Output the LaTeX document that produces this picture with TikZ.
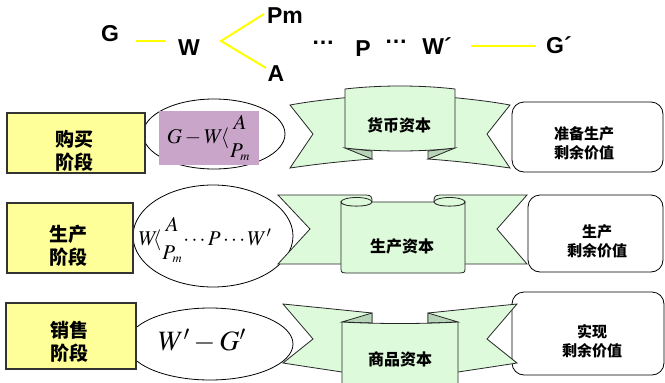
\documentclass[tikz,border=0pt]{standalone}
\usepackage{amsmath}
\usepackage{mathptmx}
\usepackage{fontspec}
\setmainfont{Liberation Sans}
\newfontfamily\cjk{Noto Sans CJK SC}
\usetikzlibrary{shapes.geometric}

\definecolor{stageyellow}{RGB}{255,255,153}
\definecolor{flowyellow}{RGB}{255,255,0}
\definecolor{ribbongreen}{RGB}{221,250,219}
\definecolor{foldgreen}{RGB}{184,212,184}
\definecolor{formulapurple}{RGB}{201,166,201}

\tikzset{
  letter/.style={font=\fontsize{23}{27}\selectfont\bfseries},
  flow/.style={draw=flowyellow, line width=2pt},
  stage/.style={draw=black!80, fill=stageyellow, line width=1.2pt},
  stagetext/.style={align=center, font=\cjk\bfseries\fontsize{19}{23}\selectfont},
  oval/.style={ellipse, draw, fill=white, line width=0.8pt},
  formula/.style={font=\fontsize{21}{25}\selectfont},
  result/.style={draw, rounded corners=12pt, line width=0.8pt, fill=white},
  resulttext/.style={align=center, font=\cjk\bfseries\fontsize{15}{19}\selectfont},
  ribbon/.style={draw=black!85, fill=ribbongreen, line width=0.8pt},
  fold/.style={draw=black!85, fill=foldgreen, line width=0.8pt},
  ribbontext/.style={font=\cjk\bfseries\fontsize{16}{19}\selectfont}
}

\begin{document}
\begin{tikzpicture}[x=1pt, y=-1pt, every node/.style={inner sep=0pt}]
\useasboundingbox (0,0) rectangle (665,383);
\clip (0,0) rectangle (665,383);

\node[letter] (g) at (110,34) {G};
\node[letter] (w) at (189,48) {W};
\node[letter] (pm) at (285,16) {Pm};
\node[letter] (a) at (276,74) {A};
\node[letter] (dots1) at (323,43) {\dots};
\node[letter] (p) at (363,49) {P};
\node[letter] (dots2) at (396,42) {\dots};
\node[letter] (w2) at (437,46) {W´};
\node[letter] (g2) at (559,45) {G´};
\coordinate (gw1) at (136,41);
\coordinate (gw2) at (165,41);
\coordinate (fork) at (221,41);
\coordinate (pmend) at (264,14);
\coordinate (aend) at (266,68);
\coordinate (wg1) at (471,46);
\coordinate (wg2) at (536,46);
\draw[flow] (gw1) -- (gw2);
\draw[flow] (pmend) -- (fork) -- (aend);
\draw[flow] (wg1) -- (wg2);

\node[oval, minimum width=142pt, minimum height=70pt] (buyoval) at (214,134) {};
\node[oval, minimum width=160pt, minimum height=102pt] (makeoval) at (213,236) {};
\node[oval, minimum width=166pt, minimum height=72pt] (selloval) at (210,344) {};

\node[stage, minimum width=138pt, minimum height=60pt] (buy) at (76,143) {};
\node[stage, minimum width=126pt, minimum height=70pt] (make) at (70,238) {};
\node[stage, minimum width=130pt, minimum height=66pt] (sell) at (71,336) {};
\node[stagetext] (buytxt) at (75,151) {购买\\阶段};
\node[stagetext] (maketxt) at (68,246) {生产\\阶段};
\node[stagetext] (selltxt) at (69,342) {销售\\阶段};

\node[formula, fill=formulapurple, minimum width=100pt, minimum height=54pt] (buyf) at (209,138)
  {$G-W\mkern-2mu\langle\genfrac{}{}{0pt}{0}{A}{P_{\scriptscriptstyle m}}$};
\node[formula] (makef) at (205,240)
  {$W\mkern-4mu\langle\genfrac{}{}{0pt}{0}{A}{P_{\scriptscriptstyle m}}\mkern-2mu\cdots P\cdots W'$};
\node[formula, font=\fontsize{28}{32}\selectfont] (sellf) at (202,341) {$W'-G'$};

\node[result, minimum width=151pt, minimum height=70pt] (buyres) at (587.5,137) {};
\node[result, minimum width=135pt, minimum height=77pt] (makeres) at (595.5,233.5) {};
\node[result, minimum width=152pt, minimum height=83pt] (sellres) at (588,333.5) {};
\node[resulttext] (buyrestxt) at (584,143) {准备生产\\剩余价值};
\node[resulttext] (makerestxt) at (597,241) {生产\\剩余价值};
\node[resulttext] (sellrestxt) at (592,341) {实现\\剩余价值};

\filldraw[ribbon] (290,105) .. controls (312,101) and (332,99) .. (352,97) -- (352,150) -- (372,159)
  .. controls (345,161) and (317,164) .. (290,168) -- (313,134) -- cycle;
\filldraw[ribbon] (510,105) .. controls (488,101) and (468,99) .. (448,97) -- (448,150) -- (428,159)
  .. controls (455,161) and (483,164) .. (510,168) -- (487,134) -- cycle;
\filldraw[fold] (345,148) -- (372,151) -- (372,159) -- cycle;
\filldraw[fold] (455,148) -- (428,151) -- (428,159) -- cycle;
\filldraw[ribbon] (345,89) .. controls (380,85) and (420,85) .. (455,89) -- (455,148)
  .. controls (420,152) and (380,152) .. (345,148) -- cycle;
\node[ribbontext] (moneycap) at (399,125) {货币资本};

\filldraw[ribbon] (278,195) -- (366,195) .. controls (372,195) and (372,198) .. (372,202) -- (372,264)
  -- (278,264) -- (310,229) -- cycle;
\filldraw[ribbon] (527,195) -- (440,195) .. controls (434,195) and (434,198) .. (434,202) -- (434,264)
  -- (527,264) -- (497,229) -- cycle;
\filldraw[ribbon] (356.5,202) ellipse [x radius=15.5, y radius=4.5];
\filldraw[ribbon] (449.5,202) ellipse [x radius=15.5, y radius=4.5];
\filldraw[ribbon] (341,202) .. controls (341,207.5) and (372,207.5) .. (372,202) -- (434,202)
  .. controls (434,207.5) and (465,207.5) .. (465,202) -- (465,269) .. controls (465,273) and (463,273) .. (460,273)
  -- (346,273) .. controls (343,273) and (341,273) .. (341,269) -- cycle;
\node[ribbontext] (prodcap) at (402,246) {生产资本};

\filldraw[ribbon] (283,304) .. controls (313,307) and (343,310) .. (372,313) -- (372,372) -- (342,372)
  .. controls (322,369) and (302,366) .. (283,363) -- (313,339) -- cycle;
\filldraw[ribbon] (517,304) .. controls (487,307) and (457,310) .. (428,313) -- (428,372) -- (458,372)
  .. controls (478,369) and (498,366) .. (517,363) -- (487,339) -- cycle;
\filldraw[fold] (342,322) -- (372,313) -- (372,323) -- cycle;
\filldraw[fold] (458,322) -- (428,313) -- (428,323) -- cycle;
\filldraw[ribbon] (342,322) .. controls (375,324) and (425,324) .. (458,322) -- (458,395) -- (342,395) -- cycle;
\node[ribbontext] (goodscap) at (400,359) {商品资本};
\end{tikzpicture}
\end{document}
